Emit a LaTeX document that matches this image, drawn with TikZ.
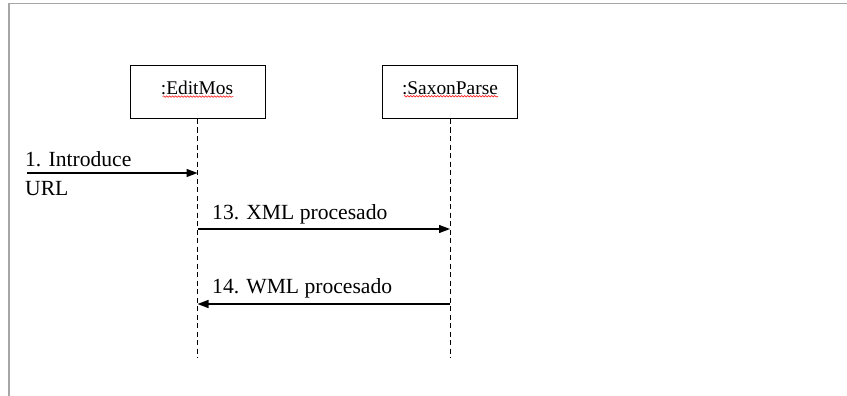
\documentclass[tikz,border=0pt]{standalone}
\usepackage{fontspec}
\setmainfont{Liberation Serif}
\usetikzlibrary{arrows.meta,decorations.pathmorphing}
\begin{document}
\begin{tikzpicture}[x=1pt,y=-1pt,
  obj/.style={draw,line width=1pt,minimum width=135pt,minimum height=53pt,inner sep=0pt},
  objlbl/.style={inner sep=0pt,font=\rmfamily\fontsize{19.4}{21}\selectfont},
  life/.style={line width=0.9pt,dash pattern=on 5pt off 3.5pt},
  msg/.style={line width=1.3pt,-{Triangle[length=11pt,width=8pt]}},
  lbl/.style={inner sep=0pt,font=\rmfamily\fontsize{21.6}{24}\selectfont,anchor=west},
  spell/.style={red,line width=0.5pt,decorate,decoration={snake,amplitude=0.8pt,segment length=3pt}}]
\useasboundingbox (0,0) rectangle (847,396);
\draw[gray!70,line width=1.5pt] (9,396) -- (9,3.5) -- (847,3.5);
% objects
\node[obj] (edit) at (197.5,92) {};
\node[obj] (saxon) at (450,92) {};
\node[objlbl] (editlbl) at (197,88) {:EditMos};
\node[objlbl] (saxonlbl) at (450,88) {:SaxonParse};
\draw[spell] ([xshift=2pt,yshift=-1.5pt]editlbl.south west) -- ([yshift=-1.5pt]editlbl.south east);
\draw[spell] ([xshift=2pt,yshift=-1.5pt]saxonlbl.south west) -- ([yshift=-1.5pt]saxonlbl.south east);
% lifelines
\coordinate (editend) at (197.5,358);
\coordinate (saxonend) at (450,358);
\draw[life] (edit.south) -- (editend);
\draw[life] (saxon.south) -- (saxonend);
% message 1
\coordinate (start) at (27,173);
\coordinate (m1) at (197.5,173);
\draw[msg] (start) -- (m1);
\node[lbl] (t1a) at (25,159) {1. Introduce};
\node[lbl] (t1b) at (25,189) {URL};
% message 13
\coordinate (e13) at (197.5,229);
\coordinate (s13) at (450,229);
\draw[msg] (e13) -- (s13);
\node[lbl] (t13) at (212,214) {13. XML procesado};
% message 14
\coordinate (e14) at (197.5,304);
\coordinate (s14) at (450,304);
\draw[msg] (s14) -- (e14);
\node[lbl] (t14) at (212,288) {14. WML procesado};
\end{tikzpicture}
\end{document}
